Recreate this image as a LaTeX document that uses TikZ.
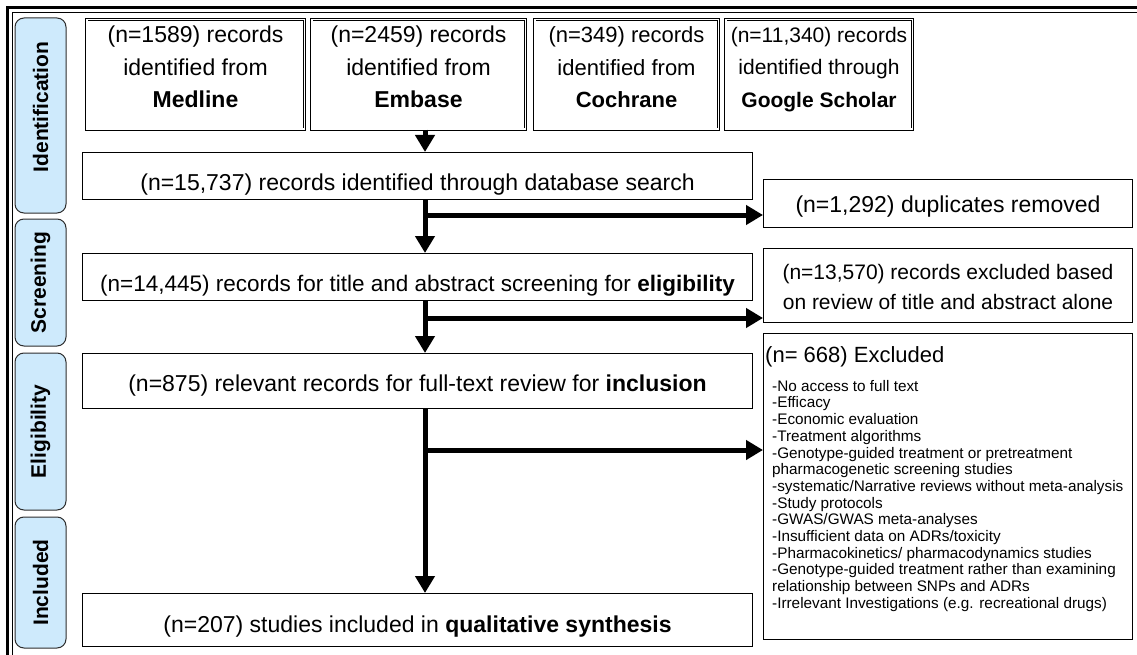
\documentclass[tikz,border=0pt]{standalone}
\usepackage{fontspec}
\setmainfont{Liberation Sans}
\usetikzlibrary{arrows.meta}
\definecolor{phasefill}{RGB}{206,234,252}
\definecolor{phaseedge}{RGB}{45,45,45}

\begin{document}
\begin{tikzpicture}[x=1pt,y=-1pt,
  srcbox/.style={draw, double, double distance=1.6pt, line width=0.9pt, inner sep=0pt},
  srctext/.style={align=center, inner sep=0pt, font=\fontsize{23}{32.5}\selectfont},
  flowbox/.style={draw, line width=1pt, inner sep=0pt},
  flowtext/.style={inner sep=0pt, font=\fontsize{23}{28}\selectfont},
  sidetext/.style={inner sep=0pt, align=center, font=\fontsize{21}{30}\selectfont},
  phase/.style={draw=phaseedge, fill=phasefill, rounded corners=9pt, line width=1pt, inner sep=0pt},
  phasetext/.style={rotate=90, inner sep=0pt, font=\fontsize{21}{25}\selectfont\bfseries},
  flow/.style={line width=5pt, -{Triangle[length=17pt,width=19pt]}},
]
\useasboundingbox (0,0) rectangle (1137,655);

% outer frame (thick rule with a thin rule inside)
\draw[line width=3.5pt] (7.5,655) -- (7.5,7.5) -- (1137,7.5);
\draw[line width=0.8pt] (12.3,655) -- (12.3,12.3) -- (1137,12.3);

% phase labels
\node[phase, minimum width=51pt, minimum height=195pt] (ph1) at (40.5,115.5) {};
\node[phasetext] (ph1t) at (40.5,107) {Identification};
\node[phase, minimum width=51pt, minimum height=127pt] (ph2) at (40.5,282.5) {};
\node[phasetext] (ph2t) at (40.5,282.5) {Screening};
\node[phase, minimum width=51pt, minimum height=157pt] (ph3) at (40.5,431.5) {};
\node[phasetext] (ph3t) at (40.5,431.5) {Eligibility};
\node[phase, minimum width=51pt, minimum height=131pt] (ph4) at (40.5,582.5) {};
\node[phasetext] (ph4t) at (40.5,582.5) {Included};

% database sources
\node[srcbox, minimum width=217.6pt, minimum height=109.6pt] (med) at (195.5,74.5) {};
\node[srctext, anchor=north] (medt) at (195.5,26) {(n=1589) records\\identified from\\\textbf{Medline}};
\node[srcbox, minimum width=213.6pt, minimum height=109.6pt] (emb) at (418.5,74.5) {};
\node[srctext, anchor=north] (embt) at (418.5,26) {(n=2459) records\\identified from\\\textbf{Embase}};
\node[srcbox, minimum width=183.6pt, minimum height=109.6pt] (coc) at (626.5,74.5) {};
\node[srctext, anchor=north, font=\fontsize{22}{32.5}\selectfont] (coct) at (626.5,26.5) {(n=349) records\\identified from\\\textbf{Cochrane}};
\node[srcbox, minimum width=186.6pt, minimum height=109.6pt] (gsc) at (819,74.5) {};
\node[srctext, anchor=north, font=\fontsize{21}{32.5}\selectfont] (gsct) at (819,27) {(n=11,340) records\\identified through\\\textbf{Google Scholar}};

% main flow boxes
\node[flowbox, minimum width=670pt, minimum height=47pt] (db) at (417.5,176) {};
\node[flowtext, anchor=base] (dbt) at (417.5,190) {(n=15,737) records identified through database search};
\node[flowbox, minimum width=670pt, minimum height=47pt] (scr) at (417.5,277) {};
\node[flowtext, anchor=base, font=\fontsize{22.5}{28}\selectfont] (scrt) at (417.5,291) {(n=14,445) records for title and abstract screening for \textbf{eligibility}};
\node[flowbox, minimum width=670pt, minimum height=55pt] (ft) at (417.5,381) {};
\node[flowtext, anchor=base] (ftt) at (417.5,391) {(n=875) relevant records for full-text review for \textbf{inclusion}};
\node[flowbox, minimum width=670pt, minimum height=53pt] (qual) at (417.5,620) {};
\node[flowtext, anchor=base] (qualt) at (417.5,632) {(n=207) studies included in \textbf{qualitative synthesis}};

% exclusion boxes
\node[flowbox, minimum width=369pt, minimum height=48pt] (dup) at (948,203.5) {};
\node[flowtext, anchor=base] (dupt) at (948,212) {(n=1,292) duplicates removed};
\node[flowbox, minimum width=369pt, minimum height=74pt] (tae) at (948,285.5) {};
\node[sidetext, anchor=north] (taet) at (948,264) {(n=13,570) records excluded based\\on review of title and abstract alone};
\node[flowbox, minimum width=369pt, minimum height=306pt] (exc) at (948,486.5) {};
\node[inner sep=0pt, anchor=base west, font=\fontsize{22}{26}\selectfont] (exch) at (765,362) {(n= 668) Excluded};
\node[inner sep=0pt, anchor=north west, align=left, font=\fontsize{15.3}{16.7}\selectfont] (excl) at (772,380) {%
-No access to full text\\
-Efficacy\\
-Economic evaluation\\
-Treatment algorithms\\
-Genotype-guided treatment or pretreatment\\
pharmacogenetic screening studies\\
-systematic/Narrative reviews without meta-analysis\\
-Study protocols\\
-GWAS/GWAS meta-analyses\\
-Insufficient data on ADRs/toxicity\\
-Pharmacokinetics/ pharmacodynamics studies\\
-Genotype-guided treatment rather than examining\\
relationship between SNPs and ADRs\\
-Irrelevant Investigations (e.g. recreational drugs)};

% connectors
\coordinate (stem) at (425,0);
\coordinate (brA) at (425,215);
\coordinate (brB) at (425,318);
\coordinate (brC) at (425,450);
\draw[flow] (emb.south -| stem) -- (db.north -| stem);
\draw[flow] (db.south -| stem) -- (scr.north -| stem);
\draw[flow] (brA) -- (brA -| dup.west);
\draw[flow] (scr.south -| stem) -- (ft.north -| stem);
\draw[flow] (brB) -- (brB -| tae.west);
\draw[flow] (ft.south -| stem) -- (qual.north -| stem);
\draw[flow] (brC) -- (brC -| exc.west);
\end{tikzpicture}
\end{document}
